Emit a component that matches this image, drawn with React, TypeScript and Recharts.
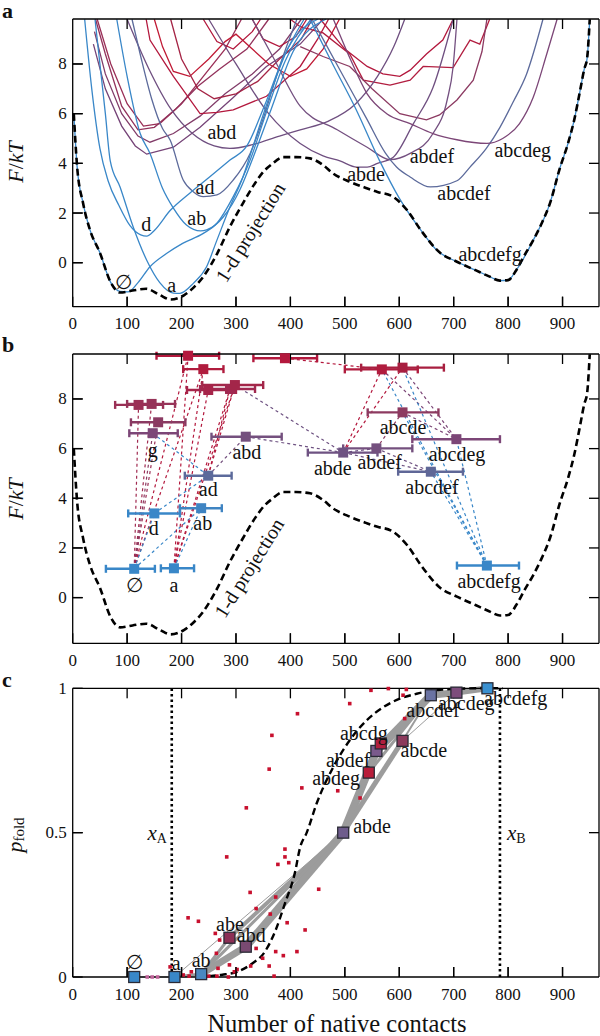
import React from 'react';
import { ComposedChart, Line, Scatter, XAxis, YAxis, ErrorBar, ReferenceLine } from 'recharts';

type Pt = [number, number];

const FONT = "'Liberation Serif', 'DejaVu Serif', serif";

const BLUE = '#3987c8';
const PBLUE = '#5c6a9b';
const PURPLE = '#6f4f80';
const MAUVE = '#7c4677';
const WINE = '#8c3a62';
const RED = '#b3183d';
const GRAY = '#9c9c9c';

// shared x axis: number of native contacts
const X_MAX = 967;
const X_TICKS = [0, 100, 200, 300, 400, 500, 600, 700, 800, 900];
const X_INNER_TICKS = [100, 200, 300, 400, 500, 600, 700, 800, 900];
const F_TICKS = [0, 2, 4, 6, 8];
const P_TICKS = [0, 0.5, 1];
const P_INNER_TICKS = [0.5];
const F_DOMAIN_A = [-1.77, 9.81];
const F_DOMAIN_B = [-1.84, 9.81];
const P_DOMAIN = [0, 1];

// 1-d projection of the free energy (panels a and b)
const PROJECTION: Pt[] = [
  [2, 6.0], [8, 3.9], [19, 2.4], [32, 1.3], [50, 0.4], [70, -0.8], [87, -1.2], [110, -1.12],
  [135, -1.05], [160, -1.3], [180, -1.48], [205, -1.3], [222, -1.0], [240, -0.56], [265, 0.35],
  [289, 1.45], [313, 2.4], [335, 3.2], [352, 3.7], [365, 3.95], [387, 4.25], [410, 4.25],
  [436, 4.2], [460, 3.93], [478, 3.6], [510, 3.25], [540, 3.0], [560, 2.85], [585, 2.7],
  [615, 2.1], [640, 1.3], [675, 0.4], [705, 0.05], [740, -0.3], [765, -0.55], [785, -0.72],
  [800, -0.7], [815, -0.3], [830, 0.3], [846, 0.9], [862, 1.6], [877, 2.4], [895, 3.8],
  [910, 4.8], [922, 5.8], [932, 6.9], [940, 7.8], [945, 8.2], [950, 9.8],
];

// panel a: free energy profiles of single states
const A_EMPTY: Pt[] = [[2, 6.0], [8, 3.9], [19, 2.4], [32, 1.3], [50, 0.4], [70, -0.8], [87, -1.15], [102, -1.17], [120, -0.8], [142, -0.16], [173, 0.38], [202, 0.78], [240, 1.18], [265, 1.59], [295, 2.66], [326, 4.13], [355, 6.0], [390, 8.1], [438, 9.8]];
const A_D: Pt[] = [[22, 9.8], [35, 7.0], [50, 4.6], [65, 3.3], [85, 2.3], [105, 1.5], [125, 1.12], [136, 1.07], [150, 1.3], [179, 2.1], [215, 2.8], [252, 3.46], [289, 4.13], [320, 4.7], [352, 6.3], [388, 8.3], [425, 9.8]];
const A_A: Pt[] = [[41, 9.8], [50, 8.0], [60, 6.0], [69, 4.1], [87, 3.05], [111, 1.45], [136, 0.1], [160, -0.8], [185, -1.22], [197, -1.23], [222, -0.82], [246, -0.16], [265, 0.91], [289, 2.25], [313, 3.46], [331, 4.67], [360, 6.6], [395, 8.6], [450, 9.8]];
const A_AB: Pt[] = [[81, 9.8], [100, 7.5], [124, 5.2], [142, 4.4], [165, 3.0], [185, 2.2], [209, 1.52], [235, 1.28], [246, 1.32], [277, 1.85], [307, 2.93], [332, 4.27], [365, 6.2], [405, 8.5], [465, 9.8]];
const A_AD: Pt[] = [[109, 9.8], [125, 8.3], [145, 6.6], [165, 5.4], [179, 4.94], [203, 3.33], [222, 2.85], [240, 2.66], [265, 2.73], [295, 3.33], [326, 4.4], [350, 5.8], [380, 7.9], [412, 9.8]];
const A_FULL: Pt[] = [[436, 9.8], [480, 7.9], [520, 6.2], [564, 4.1], [600, 2.6], [640, 1.3], [669, 0.5], [705, 0.05], [740, -0.3], [765, -0.55], [785, -0.72], [800, -0.7], [815, -0.3], [846, 0.9], [877, 2.4], [895, 3.8], [910, 4.8], [922, 5.8], [932, 6.9], [940, 7.8], [945, 8.2], [950, 9.8]];
const A_R1: Pt[] = [[45, 9.8], [70, 8.0], [100, 6.4], [130, 5.5], [160, 5.6], [200, 6.4], [240, 7.5], [280, 8.6], [310, 9.8]];
const A_R2: Pt[] = [[42, 9.8], [60, 8.4], [90, 6.3], [120, 5.35], [150, 5.45], [190, 6.2], [230, 7.1], [270, 7.8], [320, 8.6], [360, 9.8]];
const A_R3: Pt[] = [[40, 9.3], [60, 7.6], [90, 6.0], [120, 5.1], [142, 4.85], [185, 5.2], [234, 5.9], [280, 6.8], [330, 7.6], [380, 8.6], [420, 9.8]];
const A_R4: Pt[] = [[38, 8.8], [60, 7.0], [90, 5.5], [115, 4.7], [136, 4.37], [185, 4.65], [234, 5.45], [295, 6.65], [356, 7.9], [418, 8.8], [460, 9.8]];
const A_R5: Pt[] = [[135, 9.8], [142, 8.96], [185, 7.5], [234, 6.0], [265, 6.05], [295, 6.15], [356, 6.7], [418, 7.9], [450, 9.0], [470, 9.8]];
const A_R6: Pt[] = [[150, 9.8], [165, 8.7], [185, 7.7], [215, 7.5], [250, 8.2], [280, 8.9], [300, 9.2], [330, 8.6], [360, 8.0], [400, 7.5], [430, 7.8], [460, 8.6], [490, 9.8]];
const A_R7: Pt[] = [[180, 9.8], [200, 8.2], [230, 7.0], [260, 6.6], [300, 6.8], [340, 7.3], [380, 8.2], [420, 9.0], [440, 9.8]];
const A_R8: Pt[] = [[240, 9.8], [265, 8.9], [295, 8.6], [330, 9.3], [345, 9.8]];
const A_R9: Pt[] = [[330, 9.8], [350, 9.0], [380, 8.7], [410, 9.1], [430, 9.8]];
const A_R10: Pt[] = [[455, 9.8], [500, 8.6], [541, 7.9], [570, 7.6], [601, 7.5], [620, 7.75], [650, 8.4], [680, 8.96], [699, 9.8]];
const A_R11: Pt[] = [[400, 9.8], [418, 9.5], [460, 9.25], [509, 8.4], [534, 7.35], [583, 7.15], [620, 7.35], [644, 7.9], [699, 7.85], [730, 8.96], [748, 8.8], [766, 9.8]];
const A_R12: Pt[] = [[418, 8.7], [460, 8.3], [509, 7.9], [550, 7.0], [601, 6.0], [650, 5.75], [674, 5.95], [706, 6.55], [736, 7.35], [752, 8.5], [761, 9.8]];
const A_ABD: Pt[] = [[100, 9.8], [140, 7.8], [180, 6.2], [220, 5.2], [260, 4.7], [289, 4.6], [330, 4.75], [380, 5.1], [418, 5.35], [470, 5.7], [520, 6.4], [560, 7.5], [590, 8.7], [610, 9.8]];
const A_ABDE: Pt[] = [[250, 9.8], [300, 8.0], [360, 6.0], [418, 4.8], [460, 4.3], [491, 4.1], [522, 3.85], [541, 3.85], [560, 4.0], [589, 4.25], [626, 5.6], [662, 7.05], [699, 9.8]];
const A_ABDEF: Pt[] = [[330, 9.8], [370, 8.2], [418, 6.3], [486, 5.35], [541, 4.65], [583, 4.15], [620, 4.4], [662, 5.2], [688, 6.55], [699, 7.9], [706, 9.8]];
const A_ABCDEF: Pt[] = [[440, 9.8], [490, 7.8], [540, 5.8], [575, 4.4], [595, 3.85], [620, 3.45], [657, 3.05], [706, 3.3], [730, 3.85], [760, 4.6], [785, 5.45], [810, 6.5], [834, 7.6], [864, 9.8]];
const A_ABCDEG: Pt[] = [[479, 9.8], [510, 8.2], [541, 6.8], [577, 6.0], [620, 5.6], [662, 5.2], [706, 4.95], [761, 4.8], [790, 5.0], [821, 5.6], [846, 6.65], [871, 8.4], [890, 9.8]];

const A_CURVES: { pts: Pt[]; color: string; smooth: boolean }[] = [
  { pts: A_R1, color: '#9a2f57', smooth: false },
  { pts: A_R2, color: '#93325c', smooth: false },
  { pts: A_R3, color: '#823c69', smooth: false },
  { pts: A_R4, color: '#754377', smooth: false },
  { pts: A_R5, color: RED, smooth: false },
  { pts: A_R6, color: '#c01a35', smooth: false },
  { pts: A_R7, color: '#a52445', smooth: false },
  { pts: A_R8, color: RED, smooth: false },
  { pts: A_R9, color: RED, smooth: false },
  { pts: A_R10, color: RED, smooth: false },
  { pts: A_R11, color: '#b21e40', smooth: false },
  { pts: A_R12, color: WINE, smooth: false },
  { pts: A_ABD, color: PURPLE, smooth: true },
  { pts: A_ABDE, color: PURPLE, smooth: true },
  { pts: A_ABDEF, color: '#745080', smooth: true },
  { pts: A_ABCDEF, color: PBLUE, smooth: true },
  { pts: A_ABCDEG, color: MAUVE, smooth: true },
  { pts: A_AD, color: PBLUE, smooth: true },
  { pts: A_AB, color: BLUE, smooth: true },
  { pts: A_D, color: BLUE, smooth: true },
  { pts: A_A, color: BLUE, smooth: true },
  { pts: A_EMPTY, color: BLUE, smooth: true },
  { pts: A_FULL, color: BLUE, smooth: true },
];

const A_LABELS: [string, number, number][] = [
  ['abd', 274, 5.26], ['ad', 243, 3.05], ['d', 135, 1.55], ['ab', 228, 1.8], ['∅', 93, -0.78],
  ['a', 182, -0.9], ['abdef', 660, 4.3], ['abcdeg', 827, 4.54], ['abde', 539, 3.57],
  ['abcdef', 719, 2.8], ['abcdefg', 767, 0.35],
];
const PROJ_LABEL_A: [string, number, number][] = [['1-d projection', 326, 1.23]];

// panel b: states (name, x, F, x low, x high)
const B_STATES: [string, number, number, number, number][] = [
  ['∅', 113, 1.16, 61, 151], ['a', 186, 1.18, 162, 223], ['d', 150, 3.39, 102, 197],
  ['ab', 236, 3.6, 197, 274], ['ad', 249, 4.91, 206, 292], ['g', 147, 6.62, 104, 193],
  ['abd', 318, 6.48, 255, 384], ['r1', 157, 7.06, 107, 207], ['r2', 121, 7.76, 78, 166],
  ['r3', 145, 7.8, 100, 188], ['r4', 212, 9.74, 154, 269], ['r5', 240, 9.2, 203, 277],
  ['r6', 249, 8.36, 210, 300], ['r7', 289, 8.4, 234, 335], ['r8', 298, 8.56, 238, 350],
  ['r9', 390, 9.64, 332, 449], ['r10', 568, 9.19, 500, 634], ['r11', 606, 9.26, 530, 682],
  ['abcde', 606, 7.46, 542, 672], ['abcdeg', 705, 6.38, 624, 785], ['abde', 497, 5.84, 432, 560],
  ['abdef', 558, 6.01, 497, 624], ['abcdef', 658, 5.07, 598, 717], ['abcdefg', 761, 1.29, 706, 820],
];
const B_COLOR: Record<string, string> = {
  '∅': BLUE, a: BLUE, d: BLUE, ab: '#3f84c2', ad: PBLUE, g: MAUVE, abd: '#74507e',
  r1: '#8a3a62', r2: '#9a2f55', r3: '#963358', r4: RED, r5: '#b01c3e', r6: '#a6244a',
  r7: '#a02850', r8: '#a32649', r9: RED, r10: '#b01c3e', r11: '#a81f40',
  abcde: '#8d3a60', abcdeg: MAUVE, abde: '#6e5282', abdef: '#74507e', abcdef: '#5f6797', abcdefg: BLUE,
};
const B_EDGES: [string, string][] = [
  ['∅', 'r2'], ['∅', 'r3'], ['∅', 'r1'], ['∅', 'g'], ['∅', 'r4'], ['∅', 'r5'], ['∅', 'd'], ['∅', 'ab'],
  ['a', 'r4'], ['a', 'r5'], ['a', 'r6'], ['a', 'r7'], ['a', 'r8'], ['a', 'ab'], ['d', 'ad'], ['g', 'ad'],
  ['ad', 'abd'], ['ad', 'r7'], ['ad', 'r8'], ['r8', 'abde'], ['abd', 'abde'], ['abde', 'abdef'],
  ['abde', 'abcdef'], ['abde', 'r10'], ['abde', 'r11'], ['abdef', 'abcde'], ['r9', 'r10'],
  ['r10', 'abcdeg'], ['r11', 'abcdeg'], ['abcde', 'abcdeg'], ['abdef', 'abcdef'],
  ['abcdefg', 'r10'], ['abcdefg', 'r11'], ['abcdefg', 'abcde'], ['abcdefg', 'abcdef'], ['abcdefg', 'abcdeg'],
];
const B_EDGE_COLOR: string[] = [
  '#a02a50', '#a02a50', '#9a2f55', '#8a3a62', RED, RED, BLUE, BLUE,
  RED, RED, RED, RED, RED, BLUE, BLUE, BLUE,
  '#74507e', RED, RED, '#6e5282', '#6e5282', '#6e5282',
  '#6e5282', RED, RED, '#8d3a60', RED,
  MAUVE, MAUVE, MAUVE, '#6e5282',
  BLUE, BLUE, BLUE, BLUE, BLUE,
];
const B_LABELS: [string, number, number][] = [
  ['g', 147, 5.94], ['abd', 320, 5.86], ['ad', 249, 4.38], ['d', 149, 2.81], ['ab', 239, 3.01],
  ['∅', 113, 0.51], ['a', 186, 0.51], ['abcdefg', 765, 0.67], ['abcde', 607, 6.87],
  ['abcdeg', 706, 5.79], ['abde', 478, 5.22], ['abdef', 564, 5.46], ['abcdef', 660, 4.46],
];
const PROJ_LABEL_B: [string, number, number][] = [['1-d projection', 324, 1.2]];

// panel c: folding probability of the states
const C_STATES: [string, number, number][] = [
  ['∅', 113, 0], ['a', 187, 0], ['ab', 236, 0.01], ['abe', 288, 0.136], ['abd', 318, 0.105],
  ['abde', 497, 0.5], ['abdeg', 544, 0.708], ['abdef', 558, 0.783], ['abcdg', 566, 0.809],
  ['abcde', 606, 0.818], ['abcdef', 658, 0.976], ['abcdeg', 705, 0.985], ['abcdefg', 762, 1.0],
];
const C_COLOR: Record<string, string> = {
  '∅': BLUE, a: BLUE, ab: '#4a88c0', abe: '#8c2f55', abd: '#7a4a72', abde: '#6e5c8c',
  abdeg: '#b81d3a', abdef: '#7a5a8c', abcdg: '#b01e3e', abcde: '#8c3a5c', abcdef: '#6a72a2',
  abcdeg: '#7d4d7c', abcdefg: '#3a90d0',
};
const C_EDGES: [string, string][] = [
  ['∅', 'a'], ['a', 'ab'], ['ab', 'abe'], ['ab', 'abd'], ['abe', 'abde'], ['abd', 'abde'],
  ['ab', 'abde'], ['a', 'abde'], ['abde', 'abdeg'], ['abde', 'abdef'], ['abde', 'abcdg'],
  ['abde', 'abcde'], ['abdeg', 'abcdef'], ['abdef', 'abcdef'], ['abcdg', 'abcdef'],
  ['abcde', 'abcdef'], ['abcde', 'abcdeg'], ['abcdef', 'abcdeg'], ['abcdeg', 'abcdefg'], ['abcdef', 'abcdefg'],
];
const C_EDGE_WIDTH: number[] = [1, 3, 3, 7, 4, 8, 3, 1, 5, 8, 4, 5, 3, 8, 1, 2, 1, 7, 6, 4];
const C_DOTS: Pt[] = [
  [413, 0.912], [366, 0.837], [361, 0.72], [319, 0.586], [390, 0.443], [548, 0.993], [580, 0.999],
  [613, 0.996], [509, 0.947], [607, 0.976], [610, 0.895], [421, 0.655], [487, 0.645], [528, 0.62],
  [283, 0.416], [390, 0.416], [377, 0.39], [397, 0.396], [326, 0.293], [452, 0.304], [373, 0.277],
  [337, 0.237], [363, 0.218], [212, 0.205], [231, 0.193], [394, 0.188], [262, 0.151], [427, 0.163],
  [270, 0.128], [337, 0.099], [264, 0.082], [373, 0.088], [387, 0.074], [412, 0.088], [349, 0.065],
  [361, 0.038], [327, 0.038], [288, 0.042], [267, 0.03], [179, 0.035], [218, 0.018], [203, 0.007],
  [214, 0.003], [250, 0.003], [265, 0.003], [286, 0.0], [297, 0.018], [302, 0.026], [370, 0.003],
];
const C_DOTS_PINK: Pt[] = [[137, 0], [146, 0], [156, 0]];
const C_SIGMOID: Pt[] = [
  [230, 0], [250, 0.003], [275, 0.008], [302, 0.018], [330, 0.047], [351, 0.082], [373, 0.163],
  [390, 0.255], [408, 0.359], [418, 0.45], [430, 0.5], [448, 0.6], [479, 0.728], [509, 0.82],
  [540, 0.889], [571, 0.935], [601, 0.964], [632, 0.981], [675, 0.995], [748, 1.0], [790, 1.0],
];
const C_LABELS: [string, number, number][] = [
  ['abcdefg', 814, 0.966], ['abcdeg', 723, 0.949], ['abcdef', 662, 0.925], ['abcdg', 535, 0.845],
  ['abcde', 645, 0.786], ['abdef', 506, 0.752], ['abdeg', 484, 0.689], ['abde', 550, 0.523],
  ['∅', 113, 0.052], ['a', 190, 0.048], ['ab', 236, 0.059], ['abe', 289, 0.184], ['abd', 328, 0.146],
];
const X_A = 182;
const X_B = 785;
const XA_LABEL: [string, number, number][] = [['A', 173, 0.5]];
const XB_LABEL: [string, number, number][] = [['B', 798, 0.5]];

const xy = (pts: Pt[]) => pts.map(([x, y]) => ({ x, y }));
const labelData = (ls: [string, number, number][]) => ls.map(([label, x, y]) => ({ x, y, label }));

const TICK_PX = 10;
const AXIS_LINE = { stroke: '#000', strokeWidth: 1.3 };

const tickFn = (side: string) => (p: any) => {
  const { x, y, payload } = p;
  if (side === 'bottom')
    return (
      <g>
        <path d={`M${x},${y}V${y - TICK_PX}`} stroke="#000" strokeWidth={1.3} fill="none" />
        <text x={x} y={y + 17} textAnchor="middle" dominantBaseline="central" style={{ fontFamily: FONT }} fontSize={17} fill="#111">{payload.value}</text>
      </g>
    );
  if (side === 'left')
    return (
      <g>
        <path d={`M${x},${y}H${x + TICK_PX}`} stroke="#000" strokeWidth={1.3} fill="none" />
        <text x={x - 6} y={y} textAnchor="end" dominantBaseline="central" style={{ fontFamily: FONT }} fontSize={17} fill="#111">{payload.value}</text>
      </g>
    );
  if (side === 'top') return <path d={`M${x},${y}V${y + TICK_PX}`} stroke="#000" strokeWidth={1.3} fill="none" />;
  return <path d={`M${x},${y}H${x - TICK_PX}`} stroke="#000" strokeWidth={1.3} fill="none" />;
};

// the frame: axes are 1px thick so that Recharts draws them; margins compensate
const frameAxes = (yDomain: number[], yTicks: number[], yInner: number[]) => [
  <XAxis key="xb" type="number" dataKey="x" domain={[0, X_MAX]} ticks={X_TICKS} interval={0} height={1}
    tickSize={0} tickMargin={0} tickLine={false} axisLine={AXIS_LINE} tick={tickFn('bottom')} />,
  <XAxis key="xt" xAxisId="top" orientation="top" type="number" dataKey="x" domain={[0, X_MAX]} ticks={X_INNER_TICKS}
    interval={0} height={1} tickSize={0} tickMargin={0} tickLine={false} axisLine={AXIS_LINE} tick={tickFn('top')} />,
  <YAxis key="yl" type="number" dataKey="y" domain={yDomain} ticks={yTicks} interval={0} width={1}
    tickSize={0} tickMargin={0} tickLine={false} axisLine={AXIS_LINE} tick={tickFn('left')} />,
  <YAxis key="yr" yAxisId="right" orientation="right" type="number" dataKey="y" domain={yDomain} ticks={yInner}
    interval={0} width={1} tickSize={0} tickMargin={0} tickLine={false} axisLine={AXIS_LINE} tick={tickFn('right')} />,
];

// inward tick marks also placed as scatter points on the frame, drawn as short filled bars
const tickShape = (w: number, h: number, ox: number, oy: number) => (p: any) => (
  <rect x={p.cx + ox} y={p.cy + oy} width={w} height={h} fill="#000" />
);
const tickMarks = (yDomain: number[], yInner: number[]) => {
  const [y0, y1] = yDomain;
  return [
    <Scatter key="tb" data={X_INNER_TICKS.map((x) => ({ x, y: y0 }))} dataKey="y" shape={tickShape(1.3, TICK_PX, -0.65, -TICK_PX)} isAnimationActive={false} />,
    <Scatter key="tt" data={X_INNER_TICKS.map((x) => ({ x, y: y1 }))} dataKey="y" shape={tickShape(1.3, TICK_PX, -0.65, 0)} isAnimationActive={false} />,
    <Scatter key="tl" data={yInner.map((y) => ({ x: 0, y }))} dataKey="y" shape={tickShape(TICK_PX, 1.3, 0, -0.65)} isAnimationActive={false} />,
    <Scatter key="tr" data={yInner.map((y) => ({ x: X_MAX, y }))} dataKey="y" shape={tickShape(TICK_PX, 1.3, -TICK_PX, -0.65)} isAnimationActive={false} />,
  ];
};

const textShape = (size: number, rotate = 0, anchor = 'middle') => (p: any) => (
  <text x={p.cx} y={p.cy} textAnchor={anchor} dominantBaseline="central" style={{ fontFamily: FONT }} fontSize={size} fill="#111"
    transform={rotate ? `rotate(${rotate} ${p.cx} ${p.cy})` : undefined}>{p.payload.label}</text>
);
const subShape = (anchor: string) => (p: any) => (
  <text x={p.cx} y={p.cy} textAnchor={anchor} dominantBaseline="central" style={{ fontFamily: FONT }} fontSize={21} fill="#111">
    <tspan fontStyle="italic">x</tspan>
    <tspan fontSize={14} dy={5}>{p.payload.label}</tspan>
  </text>
);

const projectionLine = (
  <Line key="proj" data={xy(PROJECTION)} dataKey="y" type="monotone" stroke="#000" strokeWidth={2.6}
    strokeDasharray="7 4" dot={false} activeDot={false} isAnimationActive={false} />
);

const MARGIN_F = { top: 18, right: 0, left: 71.7 };

const PanelA = () => (
  <ComposedChart width={600} height={340} margin={{ ...MARGIN_F, bottom: 32.3 }}>
    {frameAxes(F_DOMAIN_A, F_TICKS, F_TICKS)}
    {A_CURVES.map((c, i) => (
      <Line key={i} data={xy(c.pts)} dataKey="y" type={c.smooth ? 'monotone' : 'linear'} stroke={c.color}
        strokeWidth={1.3} dot={false} activeDot={false} isAnimationActive={false} />
    ))}
    {projectionLine}
    {tickMarks(F_DOMAIN_A, F_TICKS)}
    <Scatter data={labelData(A_LABELS)} dataKey="y" shape={textShape(20)} isAnimationActive={false} />
    <Scatter data={labelData(PROJ_LABEL_A)} dataKey="y" shape={textShape(20, -58)} isAnimationActive={false} />
  </ComposedChart>
);

const stateOf = (name: string) => B_STATES.find((s) => s[0] === name)!;

const PanelB = () => (
  <ComposedChart width={600} height={340} margin={{ ...MARGIN_F, bottom: 30.7 }}>
    {frameAxes(F_DOMAIN_B, F_TICKS, F_TICKS)}
    {B_EDGES.map(([f, t], i) => {
      const a = stateOf(f);
      const b = stateOf(t);
      return (
        <Line key={'e' + i} data={[{ x: a[1], y: a[2] }, { x: b[1], y: b[2] }]} dataKey="y" type="linear"
          stroke={B_EDGE_COLOR[i]} strokeWidth={1.2} strokeDasharray="3 3" dot={false} activeDot={false}
          isAnimationActive={false} />
      );
    })}
    {projectionLine}
    {tickMarks(F_DOMAIN_B, F_TICKS)}
    {B_STATES.map(([name, x, y, lo, hi]) => (
      <Scatter key={name} data={[{ x, y, ex: [x - lo, hi - x] }]} dataKey="y" isAnimationActive={false}
        shape={(p: any) => <rect x={p.cx - 5} y={p.cy - 5} width={10} height={10} fill={B_COLOR[name]} />}>
        <ErrorBar dataKey="ex" direction="x" width={4} stroke={B_COLOR[name]} strokeWidth={2.4} isAnimationActive={false} />
      </Scatter>
    ))}
    <Scatter data={labelData(B_LABELS)} dataKey="y" shape={textShape(20)} isAnimationActive={false} />
    <Scatter data={labelData(PROJ_LABEL_B)} dataKey="y" shape={textShape(20, -58)} isAnimationActive={false} />
  </ComposedChart>
);

const cState = (name: string) => C_STATES.find((s) => s[0] === name)!;

const PanelC = () => (
  <ComposedChart width={600} height={366} margin={{ top: 17.3, right: 0, bottom: 58, left: 71.7 }}>
    {frameAxes(P_DOMAIN, P_TICKS, P_INNER_TICKS)}
    <ReferenceLine x={X_A} stroke="#000" strokeWidth={2.6} strokeDasharray="2.5 3" />
    <ReferenceLine x={X_B} stroke="#000" strokeWidth={2.6} strokeDasharray="2.5 3" />
    {C_EDGES.map(([f, t], i) => {
      const a = cState(f);
      const b = cState(t);
      return (
        <Line key={'g' + i} data={[{ x: a[1], y: a[2] }, { x: b[1], y: b[2] }]} dataKey="y" type="linear"
          stroke={GRAY} strokeWidth={C_EDGE_WIDTH[i]} dot={false} activeDot={false} isAnimationActive={false} />
      );
    })}
    <Line data={xy(C_SIGMOID)} dataKey="y" type="monotone" stroke="#000" strokeWidth={2.4} strokeDasharray="7 4"
      dot={false} activeDot={false} isAnimationActive={false} />
    {tickMarks(P_DOMAIN, P_INNER_TICKS)}
    <Scatter data={xy(C_DOTS)} dataKey="y" isAnimationActive={false}
      shape={(p: any) => <rect x={p.cx - 1.8} y={p.cy - 1.8} width={3.6} height={3.6} fill="#c8102e" />} />
    <Scatter data={xy(C_DOTS_PINK)} dataKey="y" isAnimationActive={false}
      shape={(p: any) => <rect x={p.cx - 1.8} y={p.cy - 1.8} width={3.6} height={3.6} fill="#c0649a" />} />
    {C_STATES.map(([name, x, y]) => (
      <Scatter key={name} data={[{ x, y }]} dataKey="y" isAnimationActive={false}
        shape={(p: any) => (
          <rect x={p.cx - 5.5} y={p.cy - 5.5} width={11} height={11} fill={C_COLOR[name]} stroke="#2a2a35" strokeWidth={1.3} />
        )} />
    ))}
    <Scatter data={labelData(C_LABELS)} dataKey="y" shape={textShape(20)} isAnimationActive={false} />
    <Scatter data={labelData(XA_LABEL)} dataKey="y" shape={subShape('end')} isAnimationActive={false} />
    <Scatter data={labelData(XB_LABEL)} dataKey="y" shape={subShape('start')} isAnimationActive={false} />
  </ComposedChart>
);

const App = () => (
  <div style={{ position: 'absolute', left: 0, top: 0, width: 600, height: 1036, background: '#fff' }}>
    <div style={{ position: 'absolute', left: 0, top: 0 }}><PanelA /></div>
    <div style={{ position: 'absolute', left: 0, top: 335 }}><PanelB /></div>
    <div style={{ position: 'absolute', left: 0, top: 670 }}><PanelC /></div>
    <svg width={600} height={1036} style={{ position: 'absolute', left: 0, top: 0, pointerEvents: 'none', fontFamily: FONT }}>
      <g fill="#111">
        <text x={2} y={18} fontSize={22} fontWeight="bold">a</text>
        <text x={2} y={352} fontSize={22} fontWeight="bold">b</text>
        <text x={2} y={687} fontSize={22} fontWeight="bold">c</text>
        <text x={15} y={162} fontSize={22} textAnchor="middle" dominantBaseline="central" transform="rotate(-90 15 162)">
          <tspan fontStyle="italic">F</tspan>/<tspan fontStyle="italic">kT</tspan>
        </text>
        <text x={15} y={499} fontSize={22} textAnchor="middle" dominantBaseline="central" transform="rotate(-90 15 499)">
          <tspan fontStyle="italic">F</tspan>/<tspan fontStyle="italic">kT</tspan>
        </text>
        <text x={14} y={835} fontSize={22} textAnchor="middle" dominantBaseline="central" transform="rotate(-90 14 835)">
          <tspan fontStyle="italic">p</tspan><tspan fontSize={15} dy={5}>fold</tspan>
        </text>
        <text x={337} y={1032} fontSize={24.5} textAnchor="middle">Number of native contacts</text>
      </g>
    </svg>
  </div>
);

export default App;
